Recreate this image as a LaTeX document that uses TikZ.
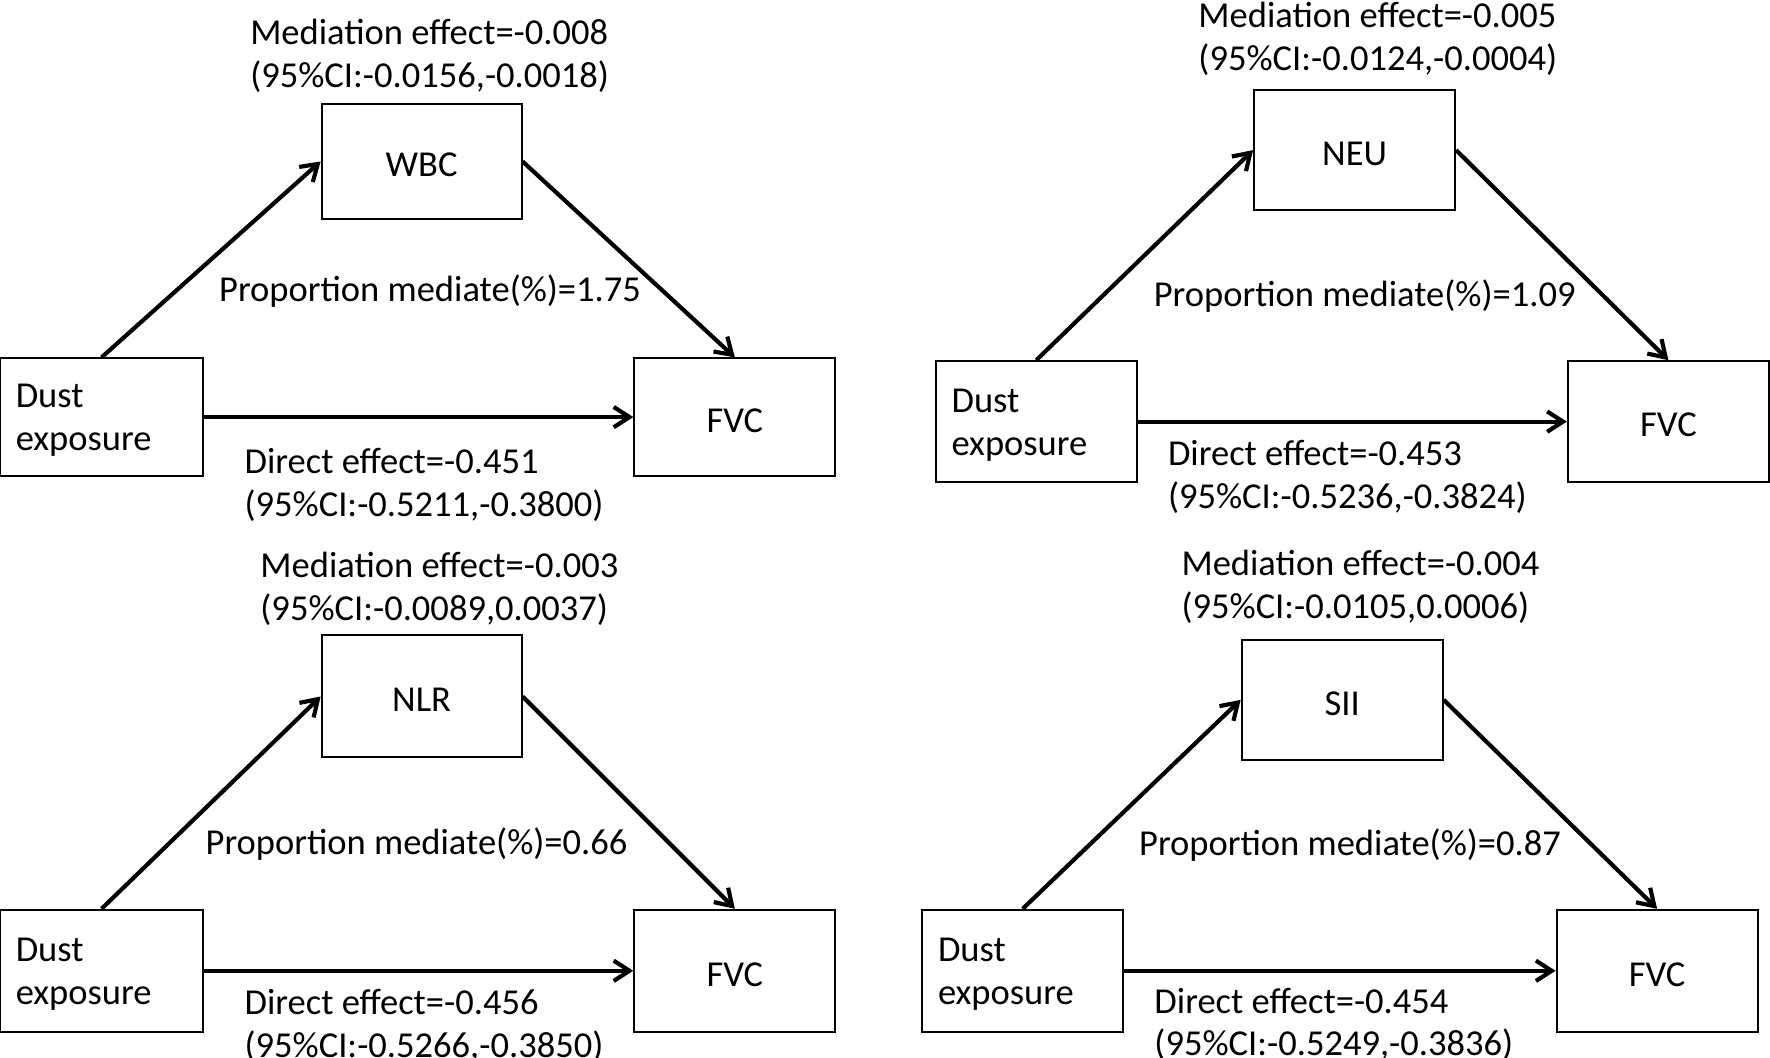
\documentclass[tikz,border=0pt]{standalone}
\usepackage{fontspec}
\setmainfont{Carlito}
\usetikzlibrary{arrows.meta, positioning}

\begin{document}
\begin{tikzpicture}[
    x=0.01cm, y=-0.01cm,
    font=\fontsize{9.2pt}{10.8pt}\selectfont,
    box/.style={rectangle, draw, line width=0.5pt, minimum width=1.78cm, minimum height=1.04cm, inner sep=0pt, text height=7.8pt},
    dustbox/.style={box, text height=, text width=1.5cm, align=left, inner xsep=0.14cm, inner ysep=0pt},
    lbl/.style={inner sep=0pt, align=center, yshift=-0.025cm},
    dlbl/.style={inner sep=0pt, align=left, anchor=west, yshift=-0.025cm},
    arrow/.style={-{Straight Barb[length=1.4mm, width=1.8mm]}, line width=1.05pt}
]
\useasboundingbox (0,0) rectangle (1568,937);

% Panel WBC
\node[dustbox, minimum width=1.8cm, text width=1.52cm] (dust1) at (90,369.5) {\strut Dust\\exposure};
\node[box, minimum width=1.77cm, minimum height=1.02cm] (wbc) at (373.5,143) {WBC};
\node[box] (fvc1) at (651,369.5) {FVC};
\draw[arrow] (dust1.north) -- (wbc.west);
\draw[arrow] (wbc.east) -- (fvc1.north);
\draw[arrow] (dust1.east) -- (fvc1.west);
\node[dlbl] (med1) at (221,47) {Mediation effect=-0.008\\(95\%CI:-0.0156,-0.0018)};
\node[lbl] (prop1) at (381,255) {Proportion mediate(\%)=1.75};
\node[dlbl] (dir1) at (216,427) {Direct effect=-0.451\\(95\%CI:-0.5211,-0.3800)};

% Panel NEU
\node[dustbox, minimum height=1.07cm] (dust2) at (918,373.5) {\strut Dust\\exposure};
\node[box, minimum height=1.06cm] (neu) at (1200,133) {NEU};
\node[box, minimum height=1.07cm] (fvc2) at (1478,373.5) {FVC};
\draw[arrow] (dust2.north) -- (neu.west);
\draw[arrow] (neu.east) -- (fvc2.north);
\draw[arrow] (dust2.east) -- (fvc2.west);
\node[dlbl] (med2) at (1061,32) {Mediation effect=-0.005\\(95\%CI:-0.0124,-0.0004)};
\node[lbl] (prop2) at (1209,260) {Proportion mediate(\%)=1.09};
\node[dlbl] (dir2) at (1034,420) {Direct effect=-0.453\\(95\%CI:-0.5236,-0.3824)};

% Panel NLR
\node[dustbox, minimum width=1.8cm, text width=1.52cm, minimum height=1.08cm] (dust3) at (90,860) {\strut Dust\\exposure};
\node[box, minimum width=1.77cm, minimum height=1.08cm] (nlr) at (373.5,617) {NLR};
\node[box, minimum height=1.08cm] (fvc3) at (651,860) {FVC};
\draw[arrow] (dust3.north) -- (nlr.west);
\draw[arrow] (nlr.east) -- (fvc3.north);
\draw[arrow] (dust3.east) -- (fvc3.west);
\node[dlbl] (med3) at (230,519) {Mediation effect=-0.003\\(95\%CI:-0.0089,0.0037)};
\node[lbl] (prop3) at (369,745) {Proportion mediate(\%)=0.66};
\node[dlbl] (dir3) at (216,906) {Direct effect=-0.456\\(95\%CI:-0.5266,-0.3850)};

% Panel SII
\node[dustbox, minimum height=1.08cm] (dust4) at (906,860) {\strut Dust\\exposure};
\node[box, minimum height=1.06cm] (sii) at (1189,620) {SII};
\node[box, minimum height=1.08cm] (fvc4) at (1468,860) {FVC};
\draw[arrow] (dust4.north) -- (sii.west);
\draw[arrow] (sii.east) -- (fvc4.north);
\draw[arrow] (dust4.east) -- (fvc4.west);
\node[dlbl] (med4) at (1046,517.5) {Mediation effect=-0.004\\(95\%CI:-0.0105,0.0006)};
\node[lbl] (prop4) at (1196,746) {Proportion mediate(\%)=0.87};
\node[dlbl] (dir4) at (1022,905) {Direct effect=-0.454\\(95\%CI:-0.5249,-0.3836)};

\end{tikzpicture}
\end{document}
